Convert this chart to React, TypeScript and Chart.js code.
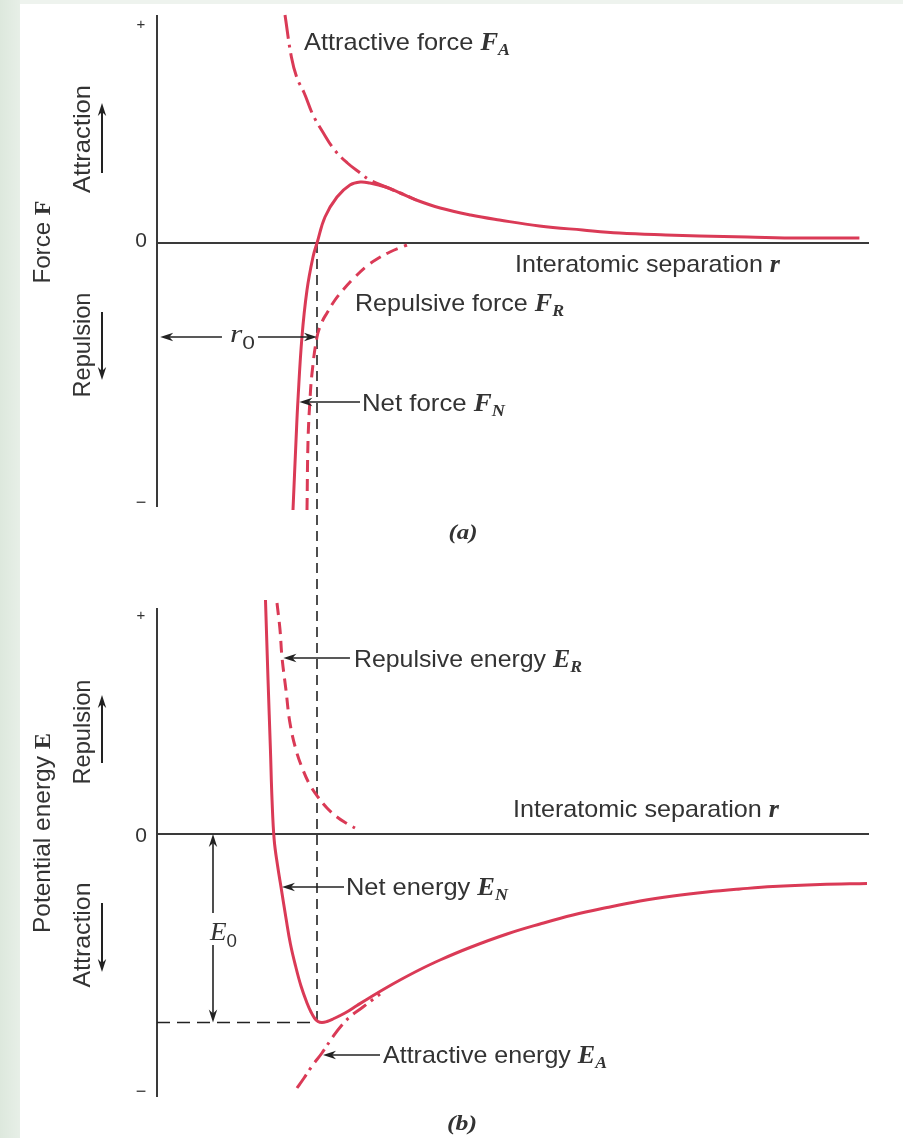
import React, { useEffect, useRef } from "react";
import { Chart, registerables } from "chart.js";

Chart.register(...registerables);

const PAGE_W = 903;
const PAGE_H = 1138;

// ---------- Panel (a): force vs interatomic separation r (r0 = 1, arbitrary units) ----------
const attractiveForceR = [0.8, 0.84, 0.875, 0.92, 0.975, 1.04, 1.11, 1.19, 1.27, 1.33, 1.43, 1.52, 1.62];
const attractiveForceF = [2.28, 1.86, 1.65, 1.5, 1.28, 1.1, 0.93, 0.8, 0.7, 0.63, 0.56, 0.5, 0.43];

const netForceR = [0.85, 0.869, 0.881, 0.906, 0.9375, 0.975, 1.0, 1.05, 1.125, 1.206, 1.27, 1.33, 1.43, 1.52, 1.62, 1.77, 1.96, 2.14, 2.39, 2.66, 2.89, 3.18, 3.39, 3.69, 4.02, 4.39];
const netForceF = [-2.67, -1.97, -1.57, -0.94, -0.47, -0.14, 0, 0.26, 0.46, 0.58, 0.61, 0.6, 0.56, 0.5, 0.43, 0.35, 0.28, 0.23, 0.17, 0.13, 0.1, 0.08, 0.07, 0.06, 0.05, 0.05];

const repulsiveForceR = [0.9375, 0.944, 0.956, 0.969, 1.0, 1.031, 1.0625, 1.1125, 1.1625, 1.2375, 1.3125, 1.375, 1.456, 1.5625];
const repulsiveForceF = [-2.67, -1.97, -1.57, -1.3, -0.94, -0.79, -0.7, -0.57, -0.47, -0.34, -0.23, -0.16, -0.09, -0.02];

// ---------- Panel (b): potential energy vs interatomic separation ----------
const netEnergyR = [0.678, 0.694, 0.709, 0.719, 0.7325, 0.753, 0.778, 0.806, 0.834, 0.866, 0.9, 0.9375, 0.9625, 0.984, 1.006, 1.031, 1.0625, 1.1, 1.175, 1.25, 1.331, 1.425, 1.519, 1.644, 1.769, 1.956, 2.1875, 2.394, 2.6, 2.8125, 3.019, 3.225, 3.4375, 3.644, 3.85, 4.144, 4.4375];
const netEnergyE = [2.34, 1.54, 0.84, 0.34, -0.06, -0.31, -0.56, -0.84, -1.1, -1.32, -1.52, -1.69, -1.78, -1.84, -1.875, -1.885, -1.875, -1.85, -1.79, -1.715, -1.635, -1.545, -1.46, -1.355, -1.26, -1.135, -1.0, -0.9, -0.81, -0.735, -0.67, -0.62, -0.58, -0.55, -0.525, -0.505, -0.495];

const repulsiveEnergyR = [0.75, 0.769, 0.781, 0.806, 0.831, 0.869, 0.9125, 0.956, 1.006, 1.0625, 1.125, 1.181, 1.2375];
const repulsiveEnergyE = [2.31, 2.04, 1.77, 1.44, 1.11, 0.84, 0.64, 0.49, 0.37, 0.26, 0.17, 0.11, 0.06];

const attractiveEnergyR = [0.875, 0.919, 0.969, 1.031, 1.094, 1.156, 1.219, 1.2875, 1.394];
const attractiveEnergyE = [-2.54, -2.44, -2.32, -2.19, -2.04, -1.91, -1.81, -1.73, -1.6];

// equilibrium separation and bonding energy
const R0 = 1.0;
const E0 = -1.885;

// axis extents and tick labels
const R_AXIS_END = 4.45;
const FORCE_AXIS_RANGE = [2.28, -2.64];
const ENERGY_AXIS_RANGE = [2.26, -2.63];
const TICK_LABELS = ["+", "0", "\u2212"];
const FORCE_TICKS = [2.18, 0.02, -2.6];
const ENERGY_TICKS = [2.18, -0.02, -2.58];

// ---------- styles ----------
const RED = "rgb(218,58,86)";
const INK = "#333333";
const SANS = '"Liberation Sans", Arial, sans-serif';
const SERIF = '"Liberation Serif", "Times New Roman", serif';
const sans = (s: number) => `${s}px ${SANS}`;
const serifBI = (s: number) => `italic bold ${s}px ${SERIF}`;
const serifI = (s: number) => `italic ${s}px ${SERIF}`;
const serifB = (s: number) => `bold ${s}px ${SERIF}`;

type Run = { t: string; f: string; dy?: number };

function richText(
  ctx: CanvasRenderingContext2D,
  runs: Run[],
  x: number,
  y: number,
  width?: number,
  align: "left" | "center" = "left",
  rotate = false
) {
  ctx.save();
  ctx.fillStyle = INK;
  ctx.textBaseline = "alphabetic";
  ctx.textAlign = "left";
  let total = 0;
  const ws = runs.map((r) => {
    ctx.font = r.f;
    const w = ctx.measureText(r.t).width;
    total += w;
    return w;
  });
  const sx = width ? width / total : 1;
  ctx.translate(x, y);
  if (rotate) ctx.rotate(-Math.PI / 2);
  ctx.scale(sx, 1);
  let cx = align === "center" ? -total / 2 : 0;
  runs.forEach((r, i) => {
    ctx.font = r.f;
    ctx.fillText(r.t, cx, r.dy || 0);
    cx += ws[i];
  });
  ctx.restore();
}

function seg(ctx: CanvasRenderingContext2D, x1: number, y1: number, x2: number, y2: number) {
  ctx.beginPath();
  ctx.moveTo(x1, y1);
  ctx.lineTo(x2, y2);
  ctx.stroke();
}

function arrow(ctx: CanvasRenderingContext2D, x1: number, y1: number, x2: number, y2: number, lw = 1.6) {
  const a = Math.atan2(y2 - y1, x2 - x1);
  const ux = Math.cos(a), uy = Math.sin(a);
  const nx = -uy, ny = ux;
  const L = 13, w = 4.2;
  ctx.save();
  ctx.strokeStyle = "#222";
  ctx.fillStyle = "#222";
  ctx.lineWidth = lw;
  ctx.setLineDash([]);
  seg(ctx, x1, y1, x2 - ux * L * 0.6, y2 - uy * L * 0.6);
  ctx.beginPath();
  ctx.moveTo(x2, y2);
  ctx.lineTo(x2 - ux * L + nx * w, y2 - uy * L + ny * w);
  ctx.lineTo(x2 - ux * L * 0.7, y2 - uy * L * 0.7);
  ctx.lineTo(x2 - ux * L - nx * w, y2 - uy * L - ny * w);
  ctx.closePath();
  ctx.fill();
  ctx.restore();
}

const diagramPlugin = {
  id: "diagram",
  beforeDatasetsDraw(chart: any) {
    const ctx: CanvasRenderingContext2D = chart.ctx;
    const X = chart.scales.x, YF = chart.scales.yF, YE = chart.scales.yE;
    const px = (v: number) => X.getPixelForValue(v);
    const pf = (v: number) => YF.getPixelForValue(v);
    const pe = (v: number) => YE.getPixelForValue(v);
    ctx.save();
    ctx.strokeStyle = "#3a3a3a";
    ctx.lineWidth = 2;
    // panel (a) axes
    seg(ctx, px(0), pf(FORCE_AXIS_RANGE[0]), px(0), pf(FORCE_AXIS_RANGE[1]));
    seg(ctx, px(0), pf(0), px(R_AXIS_END), pf(0));
    // panel (b) axes
    seg(ctx, px(0), pe(ENERGY_AXIS_RANGE[0]), px(0), pe(ENERGY_AXIS_RANGE[1]));
    seg(ctx, px(0), pe(0), px(R_AXIS_END), pe(0));
    // dashed guides: r0 through both panels, E0 level
    ctx.strokeStyle = "#222";
    ctx.lineWidth = 1.6;
    ctx.setLineDash([10, 6]);
    seg(ctx, px(R0), pf(0), px(R0), pe(E0));
    ctx.setLineDash([13, 7]);
    seg(ctx, px(0), pe(E0), px(R0), pe(E0));
    ctx.restore();

    // tick labels
    ctx.save();
    ctx.fillStyle = INK;
    ctx.textAlign = "center";
    ctx.textBaseline = "middle";
    const tickFonts = [sans(15), sans(21), sans(18)];
    TICK_LABELS.forEach((t, i) => {
      ctx.font = tickFonts[i];
      ctx.fillText(t, px(-0.1), pf(FORCE_TICKS[i]));
      ctx.fillText(t, px(-0.1), pe(ENERGY_TICKS[i]));
    });
    ctx.restore();
  },
  afterDatasetsDraw(chart: any) {
    const ctx: CanvasRenderingContext2D = chart.ctx;
    const X = chart.scales.x, YF = chart.scales.yF, YE = chart.scales.yE;
    const px = (v: number) => X.getPixelForValue(v);
    const pf = (v: number) => YF.getPixelForValue(v);
    const pe = (v: number) => YE.getPixelForValue(v);

    // vertical axis titles
    richText(ctx, [{ t: "Force ", f: sans(24) }, { t: "F", f: serifB(24) }], px(-0.669), pf(0.01), 83, "center", true);
    richText(ctx, [{ t: "Attraction", f: sans(24) }], px(-0.419), pf(1.04), 108, "center", true);
    richText(ctx, [{ t: "Repulsion", f: sans(24) }], px(-0.419), pf(-1.02), 105, "center", true);
    richText(ctx, [{ t: "Potential energy ", f: sans(24) }, { t: "E", f: serifB(24) }], px(-0.669), pe(0.01), 200, "center", true);
    richText(ctx, [{ t: "Repulsion", f: sans(24) }], px(-0.419), pe(1.02), 105, "center", true);
    richText(ctx, [{ t: "Attraction", f: sans(24) }], px(-0.419), pe(-1.01), 105, "center", true);

    // direction arrows
    arrow(ctx, px(-0.34375), pf(0.7), px(-0.34375), pf(1.4), 2);
    arrow(ctx, px(-0.34375), pf(-0.69), px(-0.34375), pf(-1.37), 2);
    arrow(ctx, px(-0.34375), pe(0.71), px(-0.34375), pe(1.39), 2);
    arrow(ctx, px(-0.34375), pe(-0.69), px(-0.34375), pe(-1.38), 2);

    // panel (a) annotations
    richText(ctx, [{ t: "Attractive force ", f: sans(24) }, { t: "F", f: serifBI(25) }, { t: "A", f: serifBI(17), dy: 5 }], px(0.919), pf(1.93), 206);
    richText(ctx, [{ t: "Interatomic separation ", f: sans(24) }, { t: "r", f: serifBI(25) }], px(2.2375), pf(-0.29), 265);
    richText(ctx, [{ t: "Repulsive force ", f: sans(24) }, { t: "F", f: serifBI(25) }, { t: "R", f: serifBI(17), dy: 5 }], px(1.2375), pf(-0.68), 209);
    richText(ctx, [{ t: "Net force ", f: sans(24) }, { t: "F", f: serifBI(25) }, { t: "N", f: serifBI(17), dy: 5 }], px(1.281), pf(-1.68), 143);
    richText(ctx, [{ t: "r", f: serifI(25) }, { t: "0", f: sans(18), dy: 7 }], px(0.456), pf(-0.99), 25);
    richText(ctx, [{ t: "(a)", f: serifBI(22) }], px(1.9125), pf(-2.96), 29, "center");
    arrow(ctx, px(0.406), pf(-0.94), px(0.02), pf(-0.94));
    arrow(ctx, px(0.631), pf(-0.94), px(R0), pf(-0.94));
    arrow(ctx, px(1.269), pf(-1.59), px(0.89), pf(-1.59));

    // panel (b) annotations
    richText(ctx, [{ t: "Repulsive energy ", f: sans(24) }, { t: "E", f: serifBI(25) }, { t: "R", f: serifBI(17), dy: 5 }], px(1.231), pe(1.67), 228);
    richText(ctx, [{ t: "Interatomic separation ", f: sans(24) }, { t: "r", f: serifBI(25) }], px(2.225), pe(0.17), 266);
    richText(ctx, [{ t: "Net energy ", f: sans(24) }, { t: "E", f: serifBI(25) }, { t: "N", f: serifBI(17), dy: 5 }], px(1.181), pe(-0.61), 162);
    richText(ctx, [{ t: "Attractive energy ", f: sans(24) }, { t: "E", f: serifBI(25) }, { t: "A", f: serifBI(17), dy: 5 }], px(1.4125), pe(-2.29), 224);
    richText(ctx, [{ t: "E", f: serifI(26) }, { t: "0", f: sans(18), dy: 7 }], px(0.331), pe(-1.06), 27);
    richText(ctx, [{ t: "(b)", f: serifBI(22) }], px(1.906), pe(-2.96), 30, "center");
    arrow(ctx, px(1.206), pe(1.76), px(0.79), pe(1.76));
    arrow(ctx, px(1.169), pe(-0.53), px(0.781), pe(-0.53));
    arrow(ctx, px(1.394), pe(-2.21), px(1.0375), pe(-2.21));
    arrow(ctx, px(0.35), pe(-0.79), px(0.35), pe(0));
    arrow(ctx, px(0.35), pe(-1.11), px(0.35), pe(E0));
  },
};

const toPts = (xs: number[], ys: number[]) => xs.map((x, i) => ({ x, y: ys[i] }));

export default function App() {
  const ref = useRef<HTMLCanvasElement>(null);

  useEffect(() => {
    const canvas = ref.current;
    if (!canvas) return;
    const base = {
      borderColor: RED,
      borderWidth: 3,
      pointRadius: 0,
      fill: false,
      tension: 0.4,
      borderCapStyle: "butt" as const,
      borderJoinStyle: "round" as const,
    };
    const chart = new Chart(canvas, {
      type: "line",
      data: {
        datasets: [
          { ...base, label: "Attractive force", data: toPts(attractiveForceR, attractiveForceF), yAxisID: "yF", borderDash: [24, 6, 3, 6] },
          { ...base, label: "Repulsive force", data: toPts(repulsiveForceR, repulsiveForceF), yAxisID: "yF", borderDash: [12, 7] },
          { ...base, label: "Net force", data: toPts(netForceR, netForceF), yAxisID: "yF" },
          { ...base, label: "Repulsive energy", data: toPts(repulsiveEnergyR, repulsiveEnergyE), yAxisID: "yE", borderDash: [12, 7] },
          { ...base, label: "Attractive energy", data: toPts(attractiveEnergyR, attractiveEnergyE), yAxisID: "yE", borderDash: [16, 6, 3, 6] },
          { ...base, label: "Net energy", data: toPts(netEnergyR, netEnergyE), yAxisID: "yE" },
        ],
      },
      options: {
        animation: false,
        responsive: false,
        maintainAspectRatio: false,
        events: [],
        layout: { padding: 0 },
        plugins: { legend: { display: false }, tooltip: { enabled: false } },
        scales: {
          x: { type: "linear", min: -0.98125, max: 4.6625, display: false },
          yF: { type: "linear", axis: "y", min: -8.95, max: 2.43, display: false },
          yE: { type: "linear", axis: "y", min: -3.04, max: 8.34, display: false },
        } as any,
      },
      plugins: [diagramPlugin as any],
    });
    return () => chart.destroy();
  }, []);

  return (
    <div style={{ position: "absolute", left: 0, top: 0, width: PAGE_W, height: PAGE_H, background: "#ffffff", overflow: "hidden" }}>
      <div style={{ position: "absolute", left: 0, top: 0, width: 20, height: PAGE_H, background: "linear-gradient(to right, #dde8dd, #e7efe7)" }} />
      <div style={{ position: "absolute", left: 20, top: 0, width: PAGE_W - 20, height: 4, background: "#eef3ee" }} />
      <canvas ref={ref} width={PAGE_W} height={PAGE_H} style={{ position: "absolute", left: 0, top: 0, width: PAGE_W, height: PAGE_H }} />
    </div>
  );
}
